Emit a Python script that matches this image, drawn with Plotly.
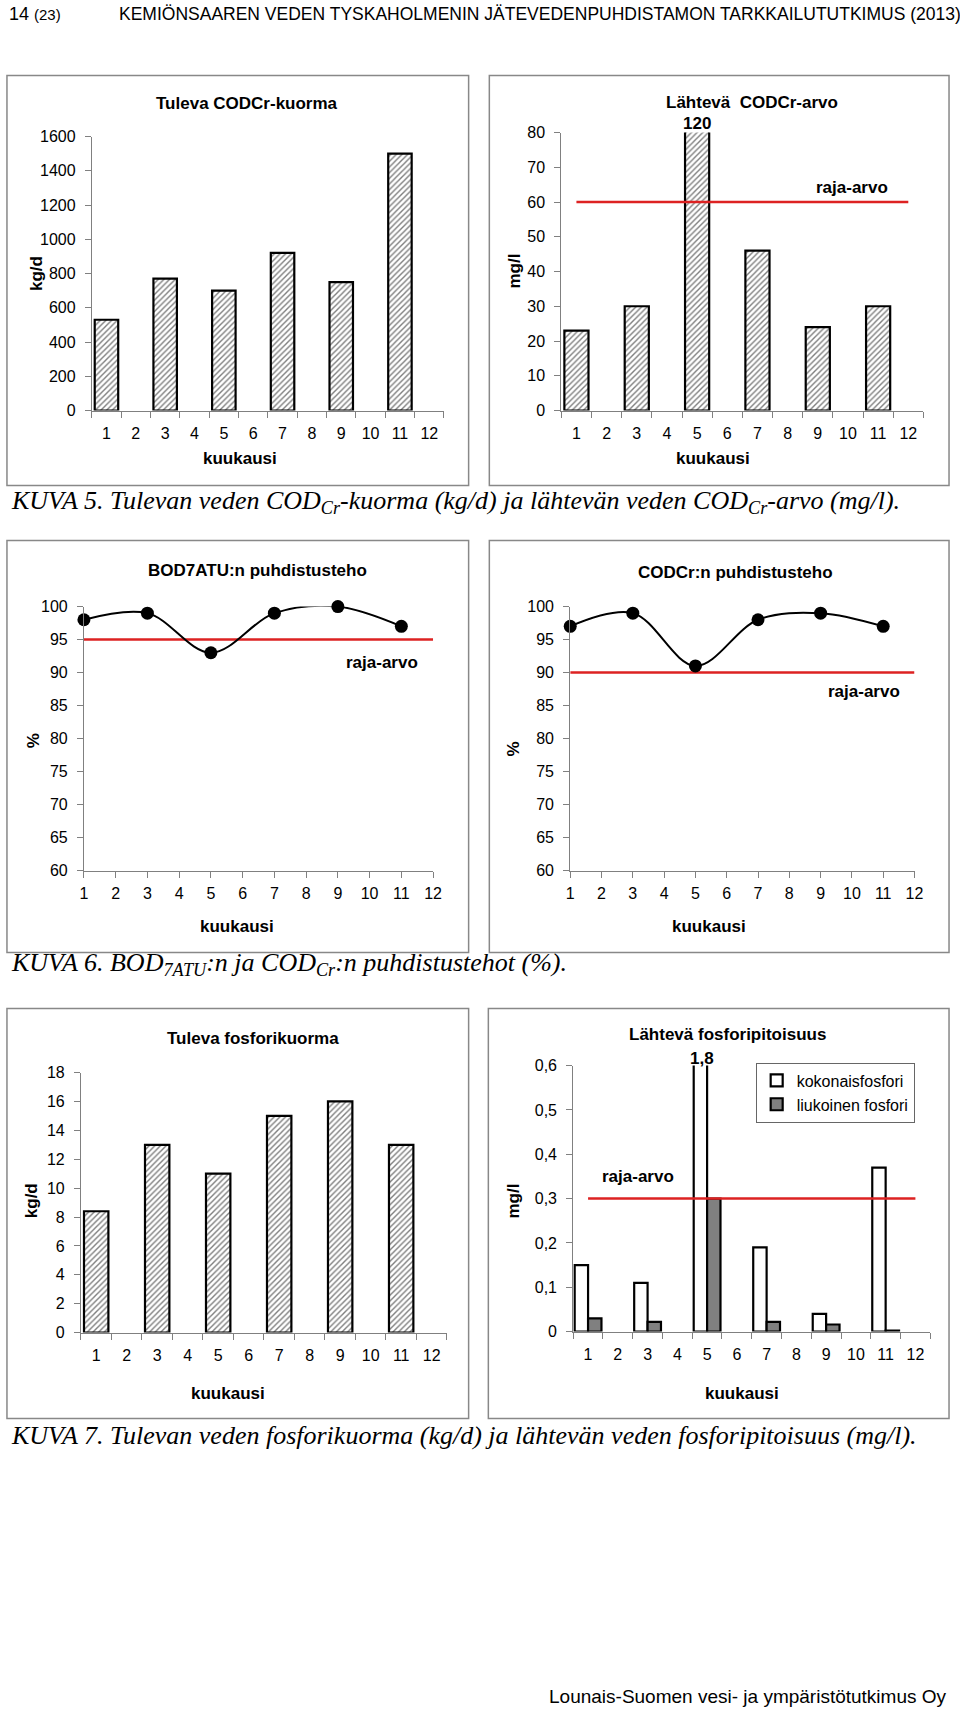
import plotly.graph_objects as go

W, H = 960, 1711


def fx(p):
    return p / W


def fy(p):
    # compensate the slight vertical offset / compression observed in the rendered page
    q = (p - 7.5) / 0.99
    return 1 - q / H


# ---------------- data ----------------
months = list(range(1, 13))
month_labels = [str(m) for m in months]
sample_months = [1, 3, 5, 7, 9, 11]

cod_in_load = [530, 770, 700, 920, 750, 1500]          # kg/d
cod_out = [23, 30, 120, 46, 24, 30]                     # mg/l
cod_out_limit = 60
bod_eff = [98, 99, 93, 99, 100, 97]                     # %
bod_limit = 95
cod_eff = [97, 99, 91, 98, 99, 97]                      # %
cod_limit = 90
p_in_load = [8.4, 13, 11, 15, 16, 13]                   # kg/d
p_tot_out = [0.15, 0.11, 1.8, 0.19, 0.04, 0.37]         # mg/l
p_sol_out = [0.03, 0.022, 0.3, 0.022, 0.016, 0.002]     # mg/l
p_limit = 0.3

SANS = "Liberation Sans, Arial, sans-serif"
SERIF = "Liberation Serif, Times New Roman, serif"
RED = "#dd2222"
AX = "#808080"

fig = go.Figure()

hatch = dict(shape="/", fgcolor="black", bgcolor="white", size=4, solidity=0.35)
bar_marker = dict(color="white", pattern=hatch, line=dict(color="black", width=2.2))

# Panel 1
fig.add_trace(go.Bar(x=sample_months, y=cod_in_load, width=0.8, xaxis="x", yaxis="y",
                     marker=bar_marker, showlegend=False))
# Panel 2
fig.add_trace(go.Bar(x=sample_months, y=cod_out, width=0.8, xaxis="x2", yaxis="y2",
                     marker=bar_marker, showlegend=False))
fig.add_trace(go.Scatter(x=[months[0], months[-1]], y=[cod_out_limit] * 2, mode="lines",
                         line=dict(color=RED, width=2.5), xaxis="x2", yaxis="y2", showlegend=False))
# Panel 3
fig.add_trace(go.Scatter(x=[months[0], months[-1]], y=[bod_limit] * 2, mode="lines",
                         line=dict(color=RED, width=2.5), xaxis="x3", yaxis="y3", showlegend=False))
fig.add_trace(go.Scatter(x=sample_months, y=bod_eff, mode="lines+markers",
                         line=dict(color="black", width=2, shape="spline", smoothing=1),
                         marker=dict(color="black", size=13), cliponaxis=False,
                         xaxis="x3", yaxis="y3", showlegend=False))
# Panel 4
fig.add_trace(go.Scatter(x=[months[0], months[-1]], y=[cod_limit] * 2, mode="lines",
                         line=dict(color=RED, width=2.5), xaxis="x4", yaxis="y4", showlegend=False))
fig.add_trace(go.Scatter(x=sample_months, y=cod_eff, mode="lines+markers",
                         line=dict(color="black", width=2, shape="spline", smoothing=1),
                         marker=dict(color="black", size=13), cliponaxis=False,
                         xaxis="x4", yaxis="y4", showlegend=False))
# Panel 5
fig.add_trace(go.Bar(x=sample_months, y=p_in_load, width=0.8, xaxis="x5", yaxis="y5",
                     marker=bar_marker, showlegend=False))
# Panel 6
fig.add_trace(go.Bar(x=sample_months, y=p_tot_out, width=0.45, offset=-0.45, xaxis="x6", yaxis="y6",
                     name="kokonaisfosfori",
                     marker=dict(color="white", line=dict(color="black", width=2.2))))
fig.add_trace(go.Bar(x=sample_months, y=p_sol_out, width=0.45, offset=0, xaxis="x6", yaxis="y6",
                     name="liukoinen fosfori",
                     marker=dict(color="#808080", line=dict(color="black", width=2.2))))
fig.add_trace(go.Scatter(x=[months[0], months[-1]], y=[p_limit] * 2, mode="lines",
                         line=dict(color=RED, width=2.5), xaxis="x6", yaxis="y6", showlegend=False))

tickfont = dict(family=SANS, size=16, color="black")
boundaries = [m - 0.5 for m in months] + [months[-1] + 0.5]


def bar_xaxis(x0, x1, anchor):
    return dict(domain=[fx(x0), fx(x1)], anchor=anchor, range=[0.5, 12.5],
                tickmode="array", tickvals=months, ticktext=month_labels, ticks="",
                minor=dict(tickmode="array", tickvals=boundaries, ticks="outside",
                           ticklen=6, tickcolor=AX, tickwidth=1),
                showline=True, linecolor=AX, linewidth=1, showgrid=False, zeroline=False,
                tickfont=tickfont, ticklabelstandoff=8, fixedrange=True)


def line_xaxis(x0, x1, anchor):
    return dict(domain=[fx(x0), fx(x1)], anchor=anchor, range=[1, 12],
                tickmode="array", tickvals=months, ticktext=month_labels, ticks="outside",
                ticklen=6, tickcolor=AX, showline=True, linecolor=AX, linewidth=1,
                showgrid=False, zeroline=False, tickfont=tickfont, ticklabelstandoff=2)


def yaxis(y_top, y_bot, anchor, rng, dtick):
    return dict(domain=[fy(y_bot), fy(y_top)], anchor=anchor, range=rng, dtick=dtick,
                tick0=rng[0], ticks="outside", ticklen=6, tickcolor=AX, showline=True,
                linecolor=AX, linewidth=1, showgrid=False, zeroline=False,
                tickfont=tickfont, ticklabelstandoff=6)


layout = dict(
    width=W, height=H, margin=dict(l=0, r=0, t=0, b=0),
    paper_bgcolor="white", plot_bgcolor="white", barmode="overlay",
    separators=", ",
    font=dict(family=SANS, color="black"),
    xaxis=bar_xaxis(89, 446, "y"), yaxis=yaxis(136, 410, "x", [0, 1600], 200),
    xaxis2=bar_xaxis(565, 932, "y2"), yaxis2=yaxis(132, 410, "x2", [0, 80], 10),
    xaxis3=line_xaxis(81, 435, "y3"), yaxis3=yaxis(606, 870, "x3", [60, 100], 5),
    xaxis4=line_xaxis(574, 923, "y4"), yaxis4=yaxis(606, 870, "x4", [60, 100], 5),
    xaxis5=bar_xaxis(78, 449, "y5"), yaxis5=yaxis(1072, 1332, "x5", [0, 18], 2),
    xaxis6=bar_xaxis(577, 939, "y6"), yaxis6=yaxis(1065, 1331, "x6", [0, 0.6], 0.1),
    legend=dict(x=fx(762), y=fy(1062), xanchor="left", yanchor="top",
                bordercolor="#666666", borderwidth=1, bgcolor="white",
                font=dict(family=SANS, size=16, color="black"), tracegroupgap=4,
                itemwidth=30),
)


def ann(text, x, y, size=17, bold=True, angle=0, xanchor="center", family=SANS):
    return dict(text=f"<b>{text}</b>" if bold else text, x=fx(x), y=fy(y),
                xref="paper", yref="paper", showarrow=False, textangle=angle,
                xanchor=xanchor, yanchor="middle",
                font=dict(family=family, size=size, color="black"))


annotations = [
    # panel titles
    ann("Tuleva CODCr-kuorma", 246, 103),
    ann("Lähtevä  CODCr-arvo", 758, 102),
    ann("BOD7ATU:n puhdistusteho", 257, 570),
    ann("CODCr:n puhdistusteho", 742, 572),
    ann("Tuleva fosforikuorma", 252, 1038),
    ann("Lähtevä fosforipitoisuus", 733, 1034),
    # x titles
    ann("kuukausi", 239, 458), ann("kuukausi", 719, 458),
    ann("kuukausi", 236, 926), ann("kuukausi", 715, 926),
    ann("kuukausi", 227, 1393), ann("kuukausi", 748, 1393),
    # y titles
    ann("kg/d", 33, 273, angle=-90), ann("mg/l", 518, 270, angle=-90),
    ann("%", 30, 740, angle=-90), ann("%", 517, 748, angle=-90),
    ann("kg/d", 28, 1200, angle=-90), ann("mg/l", 517, 1200, angle=-90),
    # limit labels
    ann("raja-arvo", 860, 187), ann("raja-arvo", 383, 662),
    ann("raja-arvo", 872, 691), ann("raja-arvo", 643, 1176),
    # captions
    ann("<i>KUVA 5. Tulevan veden COD<sub>Cr</sub>-kuorma (kg/d) ja lähtevän veden COD<sub>Cr</sub>-arvo (mg/l).</i>",
        5, 501, size=26, bold=False, xanchor="left", family=SERIF),
    ann("<i>KUVA 6. BOD<sub>7ATU</sub>:n ja COD<sub>Cr</sub>:n puhdistustehot (%).</i>",
        5, 963, size=26, bold=False, xanchor="left", family=SERIF),
    ann("<i>KUVA 7. Tulevan veden fosforikuorma (kg/d) ja lähtevän veden fosforipitoisuus (mg/l).</i>",
        5, 1435, size=26, bold=False, xanchor="left", family=SERIF),
    # header / footer
    ann("14 <span style='font-size:15px'>(23)</span>", 3, 13.5, size=18, bold=False, xanchor="left"),
    ann("KEMIÖNSAAREN VEDEN TYSKAHOLMENIN JÄTEVEDENPUHDISTAMON TARKKAILUTUTKIMUS (2013)",
        115, 13.5, size=17.5, bold=False, xanchor="left"),
    dict(text="Lounais-Suomen vesi- ja ympäristötutkimus Oy", x=fx(958), y=fy(1696),
         xref="paper", yref="paper", showarrow=False, xanchor="right", yanchor="middle",
         font=dict(family=SANS, size=19, color="black")),
]

# off-scale value labels placed at top of clipped bars
i5 = sample_months.index(5)
annotations.append(dict(text=f"<b>{cod_out[i5]}</b>", x=5, y=80, xref="x2", yref="y2",
                        showarrow=False, yanchor="bottom", yshift=-2,
                        font=dict(family=SANS, size=17, color="black")))
annotations.append(dict(text=f"<b>{str(p_tot_out[i5]).replace('.', ',')}</b>", x=5, y=0.6,
                        xref="x6", yref="y6", showarrow=False, yanchor="bottom", xshift=-5, yshift=-4,
                        font=dict(family=SANS, size=17, color="black")))

layout["annotations"] = annotations

boxes = [(3, 75, 471, 485), (492, 75, 958, 485),
         (3, 540, 471, 952), (492, 540, 958, 952),
         (3, 1008, 471, 1418), (491, 1008, 958, 1418)]
layout["shapes"] = [dict(type="rect", xref="paper", yref="paper",
                         x0=fx(a), x1=fx(c), y0=fy(d), y1=fy(b),
                         line=dict(color="#888888", width=1.5), layer="below")
                    for a, b, c, d in boxes]

fig.update_layout(**layout)
fig.write_html(
    "out.html",
    config={"displayModeBar": False},
    post_script="document.documentElement.style.margin='0';document.body.style.margin='0';"
                "document.body.style.overflow='hidden';",
)
